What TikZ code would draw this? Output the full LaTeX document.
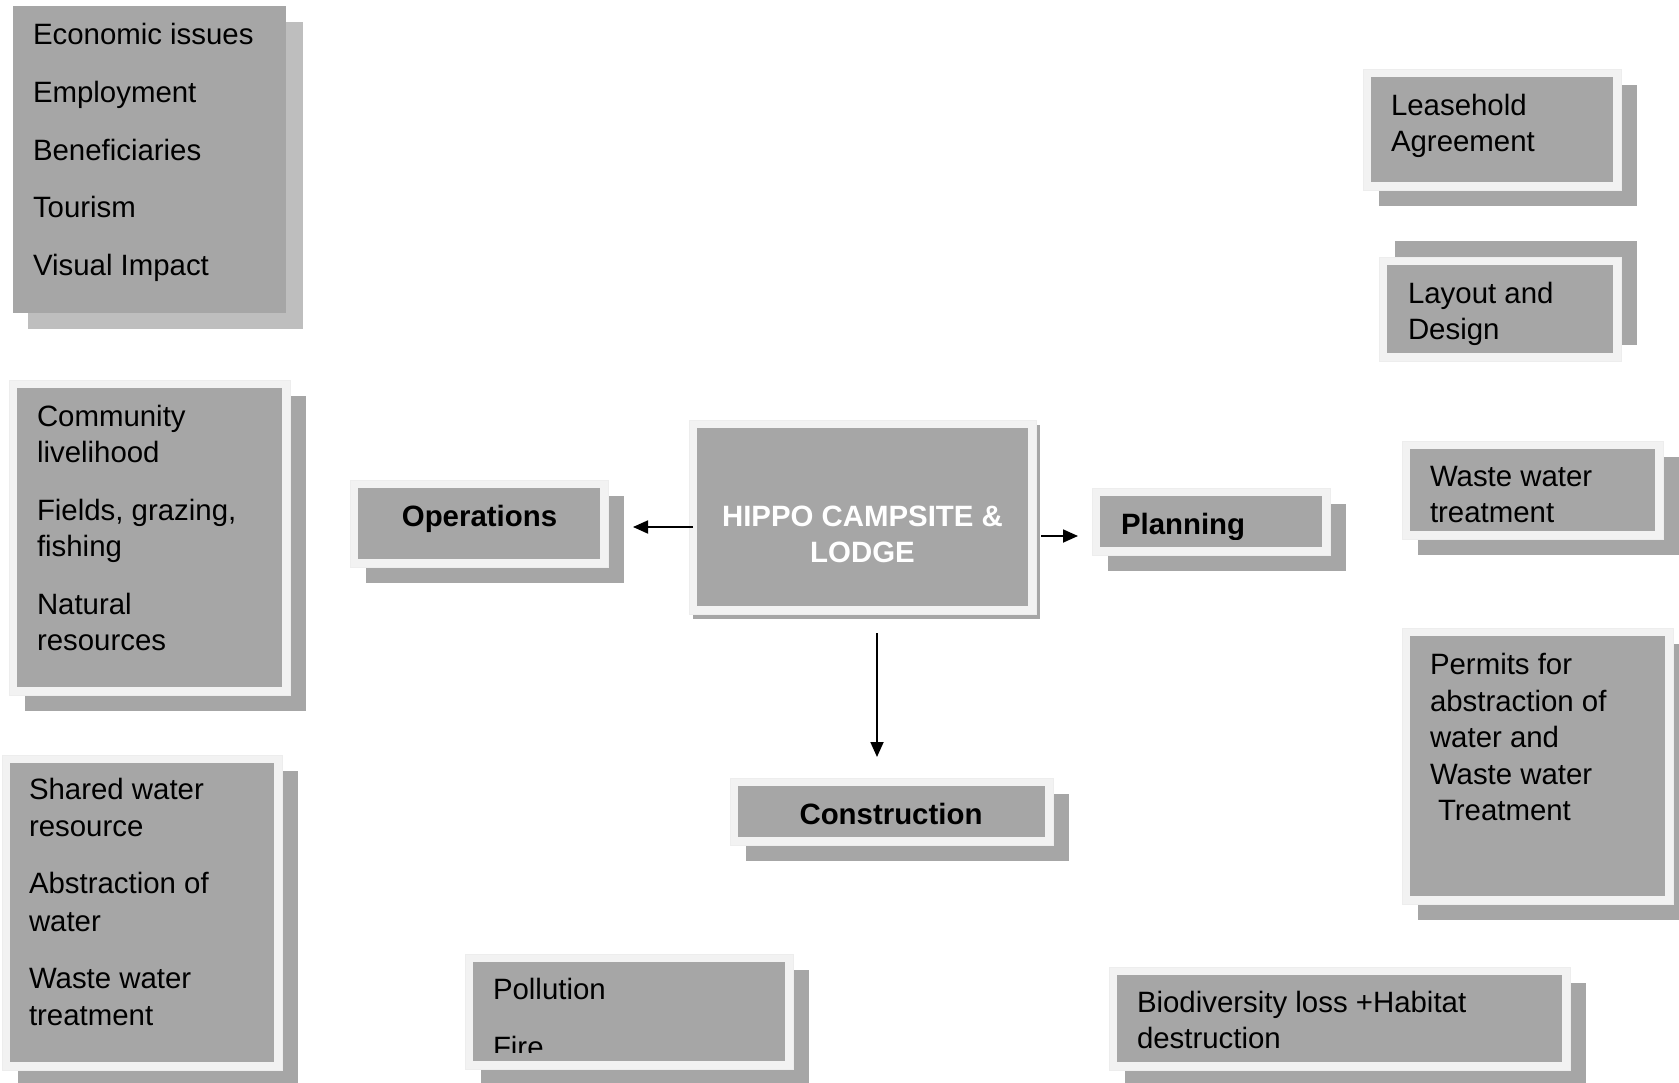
\documentclass[tikz,border=0pt]{standalone}
\usepackage{fontspec}
\setmainfont{Liberation Sans}
\usetikzlibrary{arrows.meta,calc,fit}
\definecolor{gInner}{HTML}{A6A6A6}
\definecolor{gFrame}{HTML}{F2F2F2}
\definecolor{gShad}{HTML}{A6A6A6}
\definecolor{gShadLight}{HTML}{BEBEBE}
\tikzset{
  frm/.style={fill=gFrame, draw=black!7, line width=0.6pt, inner sep=0pt, outer sep=0pt},
  txt/.style={inner sep=0pt, outer sep=0pt, font=\fontsize{29.4}{36}\selectfont},
  btxt/.style={inner sep=0pt, outer sep=0pt, font=\fontsize{29.4}{36}\selectfont\bfseries},
  arr/.style={line width=1.8pt, -{Triangle[length=15pt,width=13pt]}},
}
% #1 name, #2 x1, #3 y1, #4 x2, #5 y2 (outer frame), #6 #7 shadow offset
\newcommand{\panel}[7]{%
  \fill[gShad] ([shift={(#6,#7)}]#2,#3) rectangle ([shift={(#6,#7)}]#4,#5);
  \node[frm, fit={(#2,#3) (#4,#5)}] (#1) {};
  \fill[gInner] (#2+8,#3+8) rectangle (#4-8,#5-8);
}
\begin{document}
\begin{tikzpicture}[x=1pt,y=-1pt]
\useasboundingbox (0,0) rectangle (1679,1083);
\fill[white] (0,0) rectangle (1679,1083);

% Economic box (no frame)
\fill[gShadLight] (28,22) rectangle (303,329);
\node[fill=gInner, inner sep=0pt, outer sep=0pt, fit={(13,6) (286,313)}] (econ) {};
\node[txt, anchor=base west] (econt) at (33,45) {\begin{tabular}[t]{@{}l@{}}Economic issues\\[21.6pt] Employment\\[21.6pt] Beneficiaries\\[21.6pt] Tourism\\[21.6pt] Visual Impact\end{tabular}};

% Community
\panel{comm}{9}{380}{290}{695}{16}{16}
\node[txt, anchor=base west] (commt) at (37,426.5) {\begin{tabular}[t]{@{}l@{}}Community\\ livelihood\\[22pt] Fields, grazing,\\ fishing\\[22pt] Natural\\ resources\end{tabular}};

% Shared water
\panel{shared}{2}{755}{282}{1070}{16}{16}
\node[txt, anchor=base west] (sharedt) at (29,799) {\begin{tabular}[t]{@{}l@{}}Shared water\\[1.5pt] resource\\[21pt] Abstraction of\\[1.5pt] water\\[21pt] Waste water\\[1pt] treatment\end{tabular}};

% Operations
\panel{ops}{350}{480}{608}{567}{16}{16}
\node[btxt, anchor=base] (opst) at (479.5,526) {Operations};

% Hippo
\fill[gShad] (693,425) rectangle (1040,619);
\node[frm, fit={(689,420) (1036,614)}] (hippo) {};
\fill[gInner] (697,428) rectangle (1028,606);
\node[btxt, anchor=base, text=white] (hippot) at (862.5,526) {\begin{tabular}[t]{@{}c@{}}HIPPO CAMPSITE \&\\ LODGE\end{tabular}};

% Planning
\panel{plan}{1092}{488}{1330}{555}{16}{16}
\begin{scope}
\clip (1099,496) rectangle (1322,539);
\node[btxt, anchor=base west] (plant) at (1121,534) {Planning};
\end{scope}

% Construction
\panel{constr}{730}{778}{1053}{845}{16}{16}
\node[btxt, anchor=base] (constrt) at (891,824) {Construction};

% Leasehold
\panel{lease}{1363}{69}{1621}{190}{16}{16}
\node[txt, anchor=base west] (leaset) at (1391,116) {\begin{tabular}[t]{@{}l@{}}Leasehold\\ Agreement\end{tabular}};

% Layout
\panel{layout}{1379}{257}{1621}{361}{16}{-16}
\node[txt, anchor=base west] (layoutt) at (1408,304) {\begin{tabular}[t]{@{}l@{}}Layout and\\ Design\end{tabular}};

% Waste water treatment
\panel{wwt}{1402}{441}{1663}{539}{16}{16}
\node[txt, anchor=base west] (wwtt) at (1430,486) {\begin{tabular}[t]{@{}l@{}}Waste water\\ treatment\end{tabular}};

% Permits
\panel{permits}{1402}{628}{1673}{904}{16}{16}
\node[txt, anchor=base west] (permitst) at (1430,674.5) {\begin{tabular}[t]{@{}l@{}}Permits for\\[0.5pt] abstraction of\\[0.5pt] water and\\[0.5pt] Waste water\\[0.5pt] \hspace*{8pt}Treatment\end{tabular}};

% Pollution
\panel{poll}{465}{954}{793}{1069}{16}{16}
\begin{scope}
\clip (473,962) rectangle (785,1052);
\node[txt, anchor=base west] (pollt) at (493,999) {\begin{tabular}[t]{@{}l@{}}Pollution\\[22pt] Fire\end{tabular}};
\end{scope}

% Biodiversity
\panel{bio}{1109}{967}{1570}{1070}{16}{16}
\node[txt, anchor=base west] (biot) at (1137,1012.5) {\begin{tabular}[t]{@{}l@{}}Biodiversity loss +Habitat\\ destruction\end{tabular}};

% Arrows
\draw[arr] ($(hippo.west)+(4,10)$) -- ($(ops.east)+(25,3.5)$);
\draw[arr] ($(hippo.east)+(5,19)$) -- ($(plan.west)+(-14,14.5)$);
\draw[arr] ($(hippo.south)+(14.5,19)$) -- ($(constr.north)+(-14.5,-21)$);
\end{tikzpicture}
\end{document}
